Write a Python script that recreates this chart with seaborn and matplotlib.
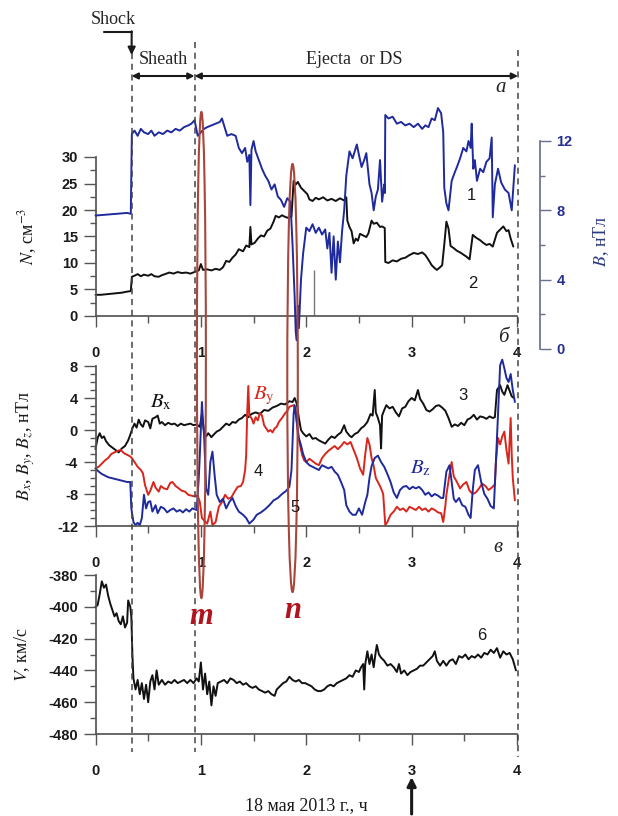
import numpy as np
import pandas as pd
import seaborn as sns
import matplotlib.pyplot as plt
from matplotlib.patches import Ellipse
from matplotlib.ticker import MultipleLocator

# ---- data: (hours of 18 May 2013, value) ----
n_pts = [(0.00, 4.0), (0.05, 4.0), (0.10, 4.1), (0.15, 4.2), (0.20, 4.3), (0.25, 4.4), (0.30, 4.6),
         (0.335, 4.7), (0.345, 7.4), (0.37, 7.6), (0.40, 7.9), (0.43, 7.5), (0.46, 7.8), (0.50, 7.6),
         (0.53, 7.9), (0.56, 7.5), (0.60, 7.4), (0.63, 7.7), (0.66, 7.9), (0.70, 8.2), (0.74, 8.0),
         (0.78, 8.3), (0.82, 8.1), (0.86, 8.2), (0.90, 8.0), (0.94, 8.3), (0.98, 8.6), (1.00, 9.8),
         (1.02, 8.7), (1.06, 8.8), (1.10, 8.6), (1.14, 8.9), (1.18, 8.7), (1.21, 9.2), (1.24, 10.4),
         (1.27, 10.2), (1.30, 11.0), (1.33, 11.6), (1.36, 12.6), (1.40, 12.2), (1.43, 13.3), (1.46, 13.0),
         (1.47, 16.8), (1.48, 13.5), (1.51, 13.8), (1.54, 14.6), (1.57, 15.2), (1.60, 15.0), (1.63, 16.1),
         (1.66, 16.5), (1.69, 17.8), (1.71, 18.9), (1.74, 18.6), (1.77, 19.0), (1.80, 18.7), (1.83, 18.5),
         (1.86, 18.8), (1.88, 25.5), (1.90, 24.8), (1.92, 25.3), (1.95, 24.2), (1.98, 23.6), (2.01, 23.0),
         (2.03, 22.0), (2.06, 21.7), (2.09, 22.3), (2.12, 22.0), (2.16, 22.4), (2.20, 21.8), (2.24, 22.1),
         (2.28, 21.7), (2.32, 22.2), (2.36, 21.8), (2.38, 22.4), (2.39, 18.0), (2.41, 16.8), (2.43, 16.0),
         (2.45, 13.7), (2.47, 14.6), (2.49, 14.2), (2.51, 15.5), (2.54, 15.2), (2.57, 14.9), (2.59, 15.6),
         (2.62, 18.0), (2.64, 17.4), (2.67, 17.6), (2.70, 16.8), (2.72, 16.9), (2.745, 16.6), (2.75, 10.2),
         (2.78, 10.0), (2.82, 10.5), (2.86, 10.3), (2.90, 10.8), (2.94, 11.0), (2.98, 11.5), (3.02, 11.9),
         (3.06, 11.7), (3.10, 12.0), (3.13, 11.5), (3.16, 10.6), (3.19, 9.6), (3.22, 9.0), (3.24, 8.7),
         (3.27, 9.2), (3.29, 9.6), (3.31, 13.5), (3.33, 17.8), (3.35, 16.5), (3.37, 13.2), (3.40, 12.8),
         (3.43, 12.3), (3.46, 12.0), (3.49, 11.6), (3.52, 11.2), (3.55, 10.7), (3.58, 15.3), (3.61, 14.8),
         (3.65, 14.3), (3.68, 13.8), (3.71, 13.4), (3.74, 13.6), (3.77, 13.1), (3.81, 15.7), (3.84, 16.3),
         (3.87, 16.9), (3.90, 16.0), (3.92, 16.2), (3.94, 14.6), (3.965, 13.1)]

b_pts = [(0.00, 7.7), (0.10, 7.75), (0.20, 7.8), (0.30, 7.85), (0.335, 7.8), (0.345, 12.4), (0.37, 12.6),
         (0.40, 12.3), (0.43, 12.7), (0.46, 12.5), (0.50, 12.4), (0.53, 12.6), (0.56, 12.3), (0.60, 12.5),
         (0.64, 12.4), (0.68, 12.6), (0.72, 12.5), (0.76, 12.7), (0.80, 12.6), (0.84, 12.8), (0.88, 12.9),
         (0.91, 13.0), (0.94, 13.2), (0.97, 12.3), (1.00, 12.5), (1.03, 12.7), (1.06, 12.8), (1.10, 12.9),
         (1.14, 13.0), (1.18, 13.1), (1.20, 13.3), (1.22, 12.9), (1.25, 12.3), (1.29, 12.4), (1.33, 12.3),
         (1.36, 11.6), (1.39, 11.3), (1.42, 11.6), (1.44, 10.8), (1.46, 11.2), (1.47, 8.3), (1.48, 11.5),
         (1.50, 12.0), (1.52, 11.4), (1.55, 10.9), (1.58, 10.4), (1.61, 10.0), (1.64, 9.7), (1.67, 9.2),
         (1.70, 9.5), (1.73, 8.8), (1.76, 8.6), (1.79, 8.2), (1.82, 8.7), (1.85, 8.5), (1.87, 6.0),
         (1.89, 3.0), (1.90, 1.0), (1.91, 0.5), (1.92, 2.5), (1.93, 1.2), (1.95, 4.0), (1.97, 5.5),
         (2.00, 7.0), (2.03, 6.8), (2.06, 7.2), (2.09, 6.7), (2.12, 7.0), (2.15, 6.6), (2.18, 6.9),
         (2.20, 5.8), (2.22, 6.7), (2.24, 4.4), (2.26, 6.5), (2.28, 4.0), (2.30, 6.2), (2.32, 5.0),
         (2.34, 6.8), (2.36, 8.0), (2.38, 10.0), (2.41, 11.4), (2.44, 11.0), (2.48, 11.8), (2.50, 11.2),
         (2.525, 10.5), (2.55, 10.9), (2.57, 11.3), (2.60, 9.5), (2.62, 9.0), (2.64, 8.0), (2.66, 8.8),
         (2.68, 9.2), (2.70, 10.9), (2.72, 8.5), (2.74, 9.5), (2.746, 9.0), (2.75, 13.5), (2.78, 13.3),
         (2.82, 13.4), (2.86, 13.0), (2.90, 13.1), (2.94, 12.9), (2.98, 13.0), (3.02, 12.8), (3.06, 13.0),
         (3.10, 12.7), (3.13, 12.9), (3.16, 12.8), (3.19, 13.3), (3.22, 13.2), (3.25, 13.9), (3.28, 13.6),
         (3.30, 12.5), (3.31, 9.3), (3.33, 8.4), (3.35, 8.0), (3.38, 9.7), (3.41, 10.2), (3.43, 10.5),
         (3.46, 11.0), (3.49, 11.6), (3.52, 11.4), (3.54, 12.0), (3.56, 11.6), (3.57, 13.0), (3.585, 10.4),
         (3.60, 10.9), (3.62, 9.7), (3.65, 10.4), (3.68, 10.2), (3.71, 10.8), (3.74, 11.0), (3.76, 12.2),
         (3.77, 7.6), (3.79, 9.5), (3.82, 10.4), (3.85, 9.6), (3.885, 9.2), (3.92, 9.0), (3.95, 8.0),
         (3.98, 10.6)]

bx_pts = [(0.00, -2.4), (0.02, -1.0), (0.04, -0.4), (0.06, -1.0), (0.08, -0.8), (0.10, -1.4), (0.13, -1.9),
          (0.16, -2.2), (0.19, -2.5), (0.22, -2.8), (0.25, -2.3), (0.28, -2.0), (0.31, -1.3), (0.33, -0.6),
          (0.35, 0.2), (0.37, 0.8), (0.39, 0.3), (0.41, 1.3), (0.43, 0.7), (0.45, 0.4), (0.47, 1.2),
          (0.50, 1.0), (0.52, 0.2), (0.54, 1.4), (0.57, 1.6), (0.59, 1.8), (0.61, 0.8), (0.63, 1.0),
          (0.66, 0.6), (0.69, 0.9), (0.72, 0.7), (0.75, 0.8), (0.78, 0.5), (0.81, 0.8), (0.84, 0.6),
          (0.87, 0.7), (0.90, 0.8), (0.93, 0.6), (0.96, 0.7), (0.99, 0.4), (1.01, 2.0), (1.03, -0.2),
          (1.05, -0.8), (1.07, -0.4), (1.10, -0.9), (1.12, -0.6), (1.15, -0.2), (1.18, 0.0), (1.21, 0.4),
          (1.24, 0.8), (1.27, 0.6), (1.30, 1.0), (1.33, 0.9), (1.36, 1.3), (1.39, 1.5), (1.42, 1.9),
          (1.45, 1.6), (1.48, 2.0), (1.52, 2.2), (1.56, 2.0), (1.60, 2.5), (1.64, 2.4), (1.68, 2.8),
          (1.72, 3.0), (1.76, 3.3), (1.80, 3.2), (1.84, 3.6), (1.87, 3.5), (1.89, 4.0), (1.91, 3.3),
          (1.93, 1.5), (1.95, 0.0), (1.97, -0.4), (2.00, -0.8), (2.03, -0.5), (2.06, -1.1), (2.09, -1.0),
          (2.12, -1.3), (2.15, -1.5), (2.18, -1.7), (2.21, -1.2), (2.24, -0.8), (2.27, -1.0), (2.30, -0.6),
          (2.33, -0.3), (2.36, 0.6), (2.38, -0.2), (2.41, -0.7), (2.43, -0.9), (2.46, -0.5), (2.49, -0.3),
          (2.52, 0.2), (2.55, 0.5), (2.58, 1.0), (2.61, 2.0), (2.63, 1.8), (2.65, 5.0), (2.66, 2.2),
          (2.68, 1.5), (2.70, 0.6), (2.71, -2.3), (2.72, 1.8), (2.74, 2.5), (2.76, 3.1), (2.79, 2.7),
          (2.82, 2.9), (2.85, 2.2), (2.88, 1.7), (2.91, 2.7), (2.94, 2.9), (2.97, 3.6), (3.00, 4.0),
          (3.03, 3.7), (3.06, 5.0), (3.08, 3.9), (3.11, 3.3), (3.14, 2.5), (3.17, 2.3), (3.20, 2.6),
          (3.23, 3.0), (3.26, 3.1), (3.29, 2.8), (3.32, 2.4), (3.35, 1.5), (3.38, 0.4), (3.41, 0.7),
          (3.44, 0.5), (3.47, 0.9), (3.50, 0.6), (3.53, 1.3), (3.56, 1.5), (3.59, 1.9), (3.62, 1.3),
          (3.65, 1.7), (3.68, 1.6), (3.71, 1.4), (3.74, 1.7), (3.77, 1.5), (3.79, 1.6), (3.81, 5.0),
          (3.84, 5.6), (3.86, 4.8), (3.88, 4.4), (3.91, 5.6), (3.93, 4.9), (3.95, 4.2), (3.97, 4.0)]

by_pts = [(0.00, -4.8), (0.03, -4.6), (0.06, -4.2), (0.09, -3.8), (0.12, -3.5), (0.15, -3.0), (0.18, -2.8),
          (0.21, -2.6), (0.24, -2.5), (0.27, -2.9), (0.30, -3.1), (0.33, -3.3), (0.35, -3.6), (0.38, -4.2),
          (0.40, -4.6), (0.43, -5.0), (0.45, -5.4), (0.47, -6.9), (0.50, -8.1), (0.52, -7.6), (0.55, -6.5),
          (0.57, -7.2), (0.60, -7.7), (0.62, -7.0), (0.65, -7.3), (0.68, -7.4), (0.71, -6.6), (0.73, -6.5),
          (0.76, -7.0), (0.79, -7.3), (0.82, -7.6), (0.85, -7.7), (0.88, -8.1), (0.91, -8.2), (0.94, -8.3),
          (0.97, -8.2), (0.99, -9.0), (1.01, -11.0), (1.03, -11.3), (1.06, -11.7), (1.09, -10.2), (1.11, -11.9),
          (1.14, -11.5), (1.17, -9.6), (1.20, -9.0), (1.23, -8.1), (1.26, -8.6), (1.29, -8.4), (1.32, -7.7),
          (1.35, -7.1), (1.38, -7.0), (1.40, -6.5), (1.42, -5.0), (1.43, -3.1), (1.44, 2.3), (1.45, 5.5),
          (1.46, 1.8), (1.48, 1.5), (1.50, 0.8), (1.52, 1.6), (1.54, 1.2), (1.56, 2.1), (1.58, 1.8),
          (1.60, 0.6), (1.62, 0.2), (1.64, -0.2), (1.66, 0.0), (1.68, -0.3), (1.70, 0.2), (1.72, 0.4),
          (1.74, 1.0), (1.77, 1.5), (1.80, 2.1), (1.82, 2.4), (1.84, 2.9), (1.86, 3.0), (1.88, 3.1),
          (1.90, 2.5), (1.92, -0.5), (1.94, -1.8), (1.96, -3.1), (1.98, -3.8), (2.00, -4.0), (2.03, -3.6),
          (2.06, -3.9), (2.09, -4.2), (2.12, -4.4), (2.15, -3.5), (2.18, -3.0), (2.21, -2.6), (2.24, -2.3),
          (2.27, -2.0), (2.30, -2.4), (2.33, -2.0), (2.36, -1.5), (2.39, -1.8), (2.42, -1.5), (2.45, -2.5),
          (2.48, -3.5), (2.51, -4.8), (2.54, -5.6), (2.56, -3.0), (2.58, -1.0), (2.60, -1.8), (2.62, -3.5),
          (2.64, -4.5), (2.66, -6.0), (2.68, -6.5), (2.71, -7.3), (2.73, -8.0), (2.75, -11.9), (2.77, -11.5),
          (2.80, -10.6), (2.83, -10.2), (2.86, -9.6), (2.89, -10.0), (2.92, -9.8), (2.95, -10.2), (2.98, -9.6),
          (3.01, -9.8), (3.04, -10.0), (3.07, -9.6), (3.10, -10.0), (3.13, -9.8), (3.16, -10.2), (3.19, -9.8),
          (3.22, -10.0), (3.25, -10.3), (3.28, -10.4), (3.30, -11.5), (3.32, -9.5), (3.33, -8.1), (3.36, -5.5),
          (3.38, -4.0), (3.40, -5.8), (3.43, -6.5), (3.46, -7.3), (3.49, -6.8), (3.52, -6.5), (3.55, -7.6),
          (3.58, -8.0), (3.61, -7.8), (3.64, -7.3), (3.67, -6.7), (3.70, -7.0), (3.73, -7.5), (3.76, -7.2),
          (3.79, -6.8), (3.80, -4.0), (3.82, -1.0), (3.84, -1.8), (3.86, -0.8), (3.88, -0.2), (3.90, -2.5),
          (3.92, -4.2), (3.94, 1.5), (3.95, -3.1), (3.96, -6.0), (3.98, -8.8)]

bz_pts = [(0.00, -4.8), (0.03, -5.2), (0.06, -5.5), (0.09, -5.7), (0.12, -5.9), (0.15, -6.0), (0.18, -6.1),
          (0.21, -6.2), (0.24, -6.3), (0.27, -6.4), (0.30, -6.5), (0.33, -6.5), (0.34, -9.8), (0.36, -11.5),
          (0.38, -11.9), (0.40, -11.6), (0.42, -11.9), (0.44, -11.0), (0.46, -8.1), (0.48, -9.8), (0.50, -9.0),
          (0.52, -8.9), (0.54, -10.2), (0.57, -9.4), (0.59, -10.4), (0.62, -9.6), (0.65, -9.8), (0.68, -10.3),
          (0.71, -10.0), (0.74, -9.8), (0.77, -10.2), (0.80, -10.0), (0.83, -10.3), (0.86, -9.9), (0.89, -10.2),
          (0.92, -9.8), (0.96, -10.0), (0.98, -6.0), (0.99, -3.1), (1.01, 3.5), (1.02, 1.0), (1.03, -0.6),
          (1.05, -7.3), (1.07, -8.1), (1.09, -4.0), (1.11, -2.7), (1.13, -5.6), (1.15, -8.1), (1.18, -9.0),
          (1.21, -8.6), (1.24, -9.8), (1.27, -9.0), (1.30, -8.5), (1.33, -9.5), (1.36, -10.2), (1.40, -10.6),
          (1.43, -11.0), (1.46, -11.7), (1.50, -11.2), (1.53, -10.6), (1.57, -10.3), (1.61, -9.9), (1.65, -9.4),
          (1.69, -8.8), (1.73, -8.5), (1.77, -8.0), (1.81, -7.6), (1.84, -7.1), (1.86, -5.0), (1.88, 2.0),
          (1.89, 3.1), (1.91, 1.0), (1.93, -1.0), (1.95, -1.9), (1.97, -3.0), (2.00, -4.0), (2.03, -4.4),
          (2.06, -4.6), (2.09, -4.8), (2.12, -5.0), (2.15, -4.4), (2.18, -4.6), (2.21, -4.8), (2.24, -4.6),
          (2.27, -5.2), (2.30, -5.6), (2.33, -6.5), (2.36, -7.5), (2.38, -9.4), (2.41, -10.2), (2.44, -10.6),
          (2.47, -10.6), (2.50, -9.8), (2.53, -10.6), (2.56, -9.0), (2.58, -8.1), (2.60, -6.0), (2.62, -4.5),
          (2.65, -3.5), (2.68, -3.2), (2.71, -4.0), (2.74, -4.6), (2.77, -5.5), (2.80, -6.5), (2.83, -7.8),
          (2.86, -8.5), (2.89, -7.5), (2.92, -7.1), (2.95, -7.0), (2.98, -7.4), (3.01, -7.1), (3.04, -7.3),
          (3.07, -7.1), (3.10, -7.5), (3.13, -8.1), (3.16, -7.8), (3.19, -8.3), (3.22, -8.0), (3.25, -8.2),
          (3.28, -8.5), (3.30, -8.5), (3.33, -5.2), (3.36, -4.4), (3.38, -6.5), (3.40, -8.6), (3.42, -9.0),
          (3.45, -8.5), (3.48, -9.4), (3.51, -9.6), (3.54, -10.6), (3.56, -11.0), (3.58, -7.5), (3.60, -5.0),
          (3.63, -4.4), (3.66, -6.5), (3.69, -8.0), (3.72, -8.6), (3.75, -9.5), (3.78, -9.8), (3.80, -4.0),
          (3.82, 2.0), (3.84, 8.1), (3.86, 8.8), (3.88, 7.7), (3.90, 6.5), (3.92, 6.0), (3.94, 7.0),
          (3.96, 5.0), (3.98, 3.5)]

v_pts = [(0.00, -400), (0.02, -399), (0.04, -392), (0.06, -384), (0.08, -388), (0.10, -386), (0.12, -393),
         (0.14, -398), (0.16, -402), (0.18, -406), (0.20, -404), (0.22, -409), (0.24, -411), (0.26, -406),
         (0.28, -413), (0.30, -410), (0.31, -396), (0.33, -400), (0.34, -406), (0.35, -430), (0.36, -445),
         (0.38, -452), (0.40, -446), (0.42, -455), (0.44, -448), (0.46, -458), (0.48, -449), (0.50, -460),
         (0.52, -447), (0.54, -443), (0.56, -452), (0.58, -440), (0.60, -449), (0.63, -446), (0.66, -449),
         (0.69, -447), (0.72, -448), (0.75, -446), (0.78, -448), (0.81, -447), (0.84, -446), (0.87, -448),
         (0.90, -446), (0.93, -448), (0.96, -445), (0.98, -447), (1.00, -435), (1.02, -452), (1.04, -442),
         (1.06, -455), (1.08, -447), (1.10, -462), (1.12, -450), (1.14, -456), (1.16, -448), (1.19, -447),
         (1.22, -446), (1.25, -448), (1.28, -445), (1.31, -446), (1.34, -448), (1.37, -447), (1.40, -449),
         (1.43, -448), (1.46, -450), (1.49, -451), (1.52, -450), (1.55, -452), (1.58, -453), (1.61, -454),
         (1.64, -453), (1.67, -455), (1.70, -456), (1.72, -452), (1.75, -450), (1.78, -448), (1.81, -447),
         (1.84, -444), (1.87, -446), (1.90, -447), (1.93, -446), (1.96, -448), (1.99, -448), (2.02, -449),
         (2.05, -450), (2.08, -452), (2.11, -453), (2.14, -453), (2.17, -452), (2.20, -450), (2.23, -449),
         (2.26, -450), (2.29, -448), (2.32, -447), (2.35, -446), (2.38, -445), (2.41, -443), (2.44, -444),
         (2.47, -440), (2.50, -441), (2.52, -438), (2.54, -436), (2.55, -452), (2.56, -436), (2.58, -428),
         (2.60, -436), (2.62, -430), (2.64, -438), (2.66, -428), (2.67, -424), (2.69, -430), (2.71, -432),
         (2.74, -434), (2.77, -437), (2.80, -436), (2.83, -438), (2.86, -441), (2.88, -436), (2.90, -442),
         (2.93, -440), (2.96, -443), (2.99, -441), (3.02, -440), (3.05, -439), (3.08, -437), (3.11, -437),
         (3.14, -435), (3.17, -433), (3.20, -431), (3.22, -428), (3.24, -434), (3.27, -437), (3.30, -434),
         (3.33, -437), (3.36, -434), (3.39, -433), (3.42, -436), (3.45, -431), (3.48, -432), (3.51, -430),
         (3.54, -433), (3.57, -431), (3.60, -432), (3.63, -430), (3.66, -432), (3.69, -429), (3.72, -430),
         (3.75, -427), (3.78, -429), (3.81, -426), (3.84, -432), (3.87, -428), (3.90, -430), (3.93, -429),
         (3.96, -433), (3.99, -440)]

# boundaries (hours): shock, end of sheath, end of ejecta
shock_t, sheath_t, ejecta_t = 0.343, 0.94, 4.01
# intervals m and n highlighted in red
m_t, n_t = 1.005, 1.87
# short gap marker in N
gap_t, gap_top = 2.07, 8.7

BLACK, BLUE, RED = '#111111', '#1f2a9c', '#d8261c'
LOOP = '#a8463c'
SERIF = 'Liberation Serif'

sns.set_theme(style='ticks')
plt.rcParams['font.family'] = ['Liberation Sans', 'DejaVu Sans']
plt.rcParams['mathtext.fontset'] = 'stix'
plt.rcParams['axes.unicode_minus'] = False
plt.rcParams['axes.edgecolor'] = '#555555'
plt.rcParams['xtick.color'] = '#555555'
plt.rcParams['ytick.color'] = '#555555'
plt.rcParams['xtick.labelcolor'] = '#1a1a1a'
plt.rcParams['ytick.labelcolor'] = '#1a1a1a'


def to_df(pts):
    return pd.DataFrame(pts, columns=['t', 'v'])


def draw(ax, pts, color):
    sns.lineplot(data=to_df(pts), x='t', y='v', ax=ax, color=color, lw=1.4,
                 estimator=None, clip_on=False)
    ax.set_xlabel('')
    ax.set_ylabel('')


def style_panel(ax, ylim, major, minor):
    ax.set_xlim(0, 4)
    ax.set_ylim(*ylim)
    ax.xaxis.set_major_locator(MultipleLocator(1))
    ax.xaxis.set_minor_locator(MultipleLocator(0.5))
    ax.yaxis.set_major_locator(MultipleLocator(major))
    ax.yaxis.set_minor_locator(MultipleLocator(minor))
    sns.despine(ax=ax)
    ax.set_facecolor('none')
    ax.tick_params(axis='x', which='major', length=8, width=1, pad=13.5, labelsize=10.5)
    ax.tick_params(axis='x', which='minor', length=5, width=1)
    ax.tick_params(axis='y', which='major', length=8.6, width=1, pad=4, labelsize=10.5)
    ax.tick_params(axis='y', which='minor', length=4.3, width=1)


W_PX, H_PX = 618, 816
L, W = 95.5 / W_PX, 421.5 / W_PX


def box(top, bottom):
    return [L, 1 - bottom / H_PX, W, (bottom - top) / H_PX]


fig = plt.figure(figsize=(W_PX / 100, H_PX / 100), dpi=100)

# panel a: density N and field magnitude B
ax_n = fig.add_axes(box(157, 316))
ax_b = fig.add_axes(box(141, 349))
draw(ax_b, b_pts, BLUE)
draw(ax_n, n_pts, BLACK)
ax_n.vlines(gap_t, 0, gap_top, color='#777777', lw=1)
style_panel(ax_n, (0, 30), 5, 2.5)
ax_n.set_ylabel('$N$, см$^{-3}$', family=SERIF, fontsize=13, color='#1a1a1a')
ax_n.yaxis.set_label_coords((39 - 95.5) / 421.5, 0.5)

ax_b.set_xlim(0, 4)
ax_b.set_ylim(0, 12)
ax_b.set_facecolor('none')
for s in ['left', 'top', 'bottom']:
    ax_b.spines[s].set_visible(False)
ax_b.spines['right'].set_position(('outward', 16.5))
ax_b.spines['right'].set_color('#6a6f90')
ax_b.yaxis.tick_right()
ax_b.yaxis.set_label_position('right')
ax_b.set_xticks([])
ax_b.yaxis.set_major_locator(MultipleLocator(4))
ax_b.yaxis.set_minor_locator(MultipleLocator(2))
ax_b.tick_params(axis='y', which='major', length=8, width=1, pad=4, labelsize=10.5,
                 color='#6a6f90', labelcolor='#26308c')
ax_b.tick_params(axis='y', which='minor', length=3.5, width=1, color='#6a6f90')
ax_b.set_ylabel('$B$, нТл', family=SERIF, fontsize=13, color='#2d3b7d')
ax_b.yaxis.set_label_coords((591 - 95.5) / 421.5, 0.52)

# panel b: field components
ax_f = fig.add_axes(box(366, 526))
draw(ax_f, bx_pts, BLACK)
draw(ax_f, by_pts, RED)
draw(ax_f, bz_pts, BLUE)
style_panel(ax_f, (-12, 8), 4, 1)
ax_f.set_ylabel('$B_x$, $B_y$, $B_z$, нТл', family=SERIF, fontsize=13, color='#1a1a1a')
ax_f.yaxis.set_label_coords((37 - 95.5) / 421.5, 0.5)

# panel c: velocity
ax_v = fig.add_axes(box(575, 734))
draw(ax_v, v_pts, BLACK)
style_panel(ax_v, (-480, -380), 20, 10)
ax_v.set_ylabel('$V$, км/с', family=SERIF, fontsize=13, color='#1a1a1a')
ax_v.yaxis.set_label_coords((32 - 95.5) / 421.5, 0.5)
ax_v.set_xlabel('18 мая 2013 г., ч', family=SERIF, fontsize=13, color='#1a1a1a')
ax_v.xaxis.set_label_coords(0.5, (734 - 797) / 159)

for ax in [ax_n, ax_b, ax_f, ax_v]:
    plt.setp(ax.get_xticklabels() + ax.get_yticklabels(), fontweight='bold')

# overlay in (hours, pixel row) for the annotations
ov = fig.add_axes([L, 0, W, 1], zorder=10)
ov.set_xlim(0, 4)
ov.set_ylim(H_PX, 0)
ov.axis('off')
ov.patch.set_alpha(0)

dash = dict(ls=(0, (4, 3)), color='#444444', lw=1.1, clip_on=False)
ov.plot([shock_t, shock_t], [53, 752], **dash)
ov.plot([sheath_t, sheath_t], [42, 752], **dash)
ov.plot([ejecta_t, ejecta_t], [50, 757], **dash)

ov.text(0.17, 19, 'Shock', family=SERIF, fontsize=13, ha='center', va='center')
ov.plot([0.08, shock_t], [32, 32], color='k', lw=1.5)
ov.annotate('', xy=(shock_t, 55), xytext=(shock_t, 31.3), annotation_clip=False,
            arrowprops=dict(arrowstyle='-|>', color='k', lw=1.5, mutation_scale=11,
                            shrinkA=0, shrinkB=0))
ov.text((shock_t + sheath_t) / 2, 60, 'Sheath', family=SERIF, fontsize=13, ha='center', va='center')
ov.text(2.46, 60, 'Ejecta  or DS', family=SERIF, fontsize=13, ha='center', va='center')
for a, b in [(shock_t, sheath_t), (sheath_t, ejecta_t)]:
    ov.annotate('', xy=(b, 76), xytext=(a, 76), annotation_clip=False,
                arrowprops=dict(arrowstyle='<|-|>', color='k', lw=1.5, mutation_scale=9,
                                shrinkA=0, shrinkB=0))

for t, y, s in [(3.84, 88, 'а'), (3.87, 337, 'б'), (3.82, 547, 'в')]:
    ov.text(t, y, s, family=SERIF, style='italic', fontsize=15, ha='center', va='center')

for t, y, s in [(3.57, 195, '1'), (3.58, 283, '2'), (3.49, 396, '3'),
                (1.54, 472, '4'), (1.89, 508, '5'), (3.67, 636, '6')]:
    ov.text(t, y, s, fontsize=12, ha='center', va='center', color='#1a1a1a')

ov.text(0.52, 402, r'$B_{\mathrm{x}}$', fontsize=15, color=BLACK, ha='left', va='center')
ov.text(1.49, 396, r'$B_{\mathrm{y}}$', fontsize=15, color=RED, ha='left', va='center')
ov.text(2.98, 468, r'$B_{\mathrm{z}}$', fontsize=15, color=BLUE, ha='left', va='center')

ov.add_patch(Ellipse((m_t, 355), 0.085, 486, fill=False, ec=LOOP, lw=1.5))
ov.add_patch(Ellipse((n_t, 378), 0.1, 428, fill=False, ec=LOOP, lw=1.5))
ov.text(m_t, 617, 'm', family=SERIF, style='italic', weight='bold', fontsize=22,
        color='#b0141e', ha='center', va='center')
ov.text(n_t, 611, 'n', family=SERIF, style='italic', weight='bold', fontsize=22,
        color='#b0141e', ha='center', va='center')

ov.annotate('', xy=(3, 777), xytext=(3, 814), annotation_clip=False,
            arrowprops=dict(arrowstyle='-|>', color='k', lw=2.2, mutation_scale=13,
                            shrinkA=0, shrinkB=0))

fig.savefig('out.png', dpi=100)
